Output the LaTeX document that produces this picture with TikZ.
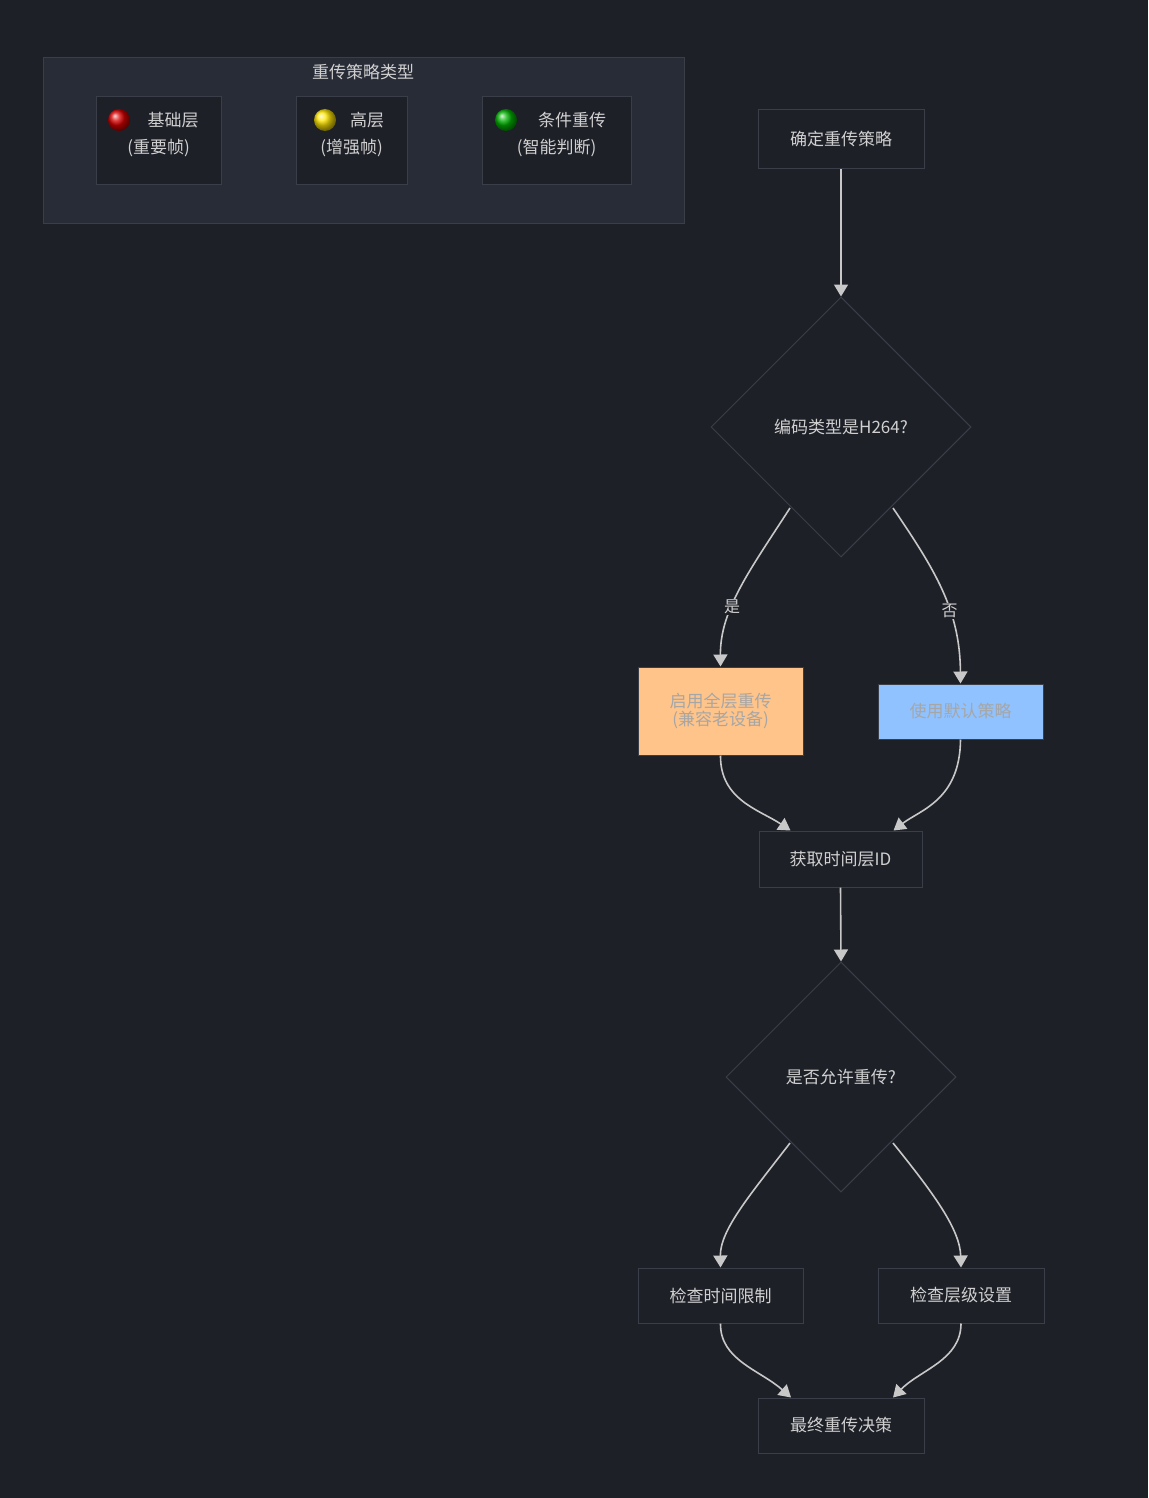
\documentclass[tikz,border=0pt]{standalone}
\usepackage{fontspec}
\setmainfont{Noto Sans CJK SC}
\usetikzlibrary{arrows.meta,shapes.geometric}
\definecolor{bg}{HTML}{1E2028}
\definecolor{nodebg}{HTML}{1E2028}
\definecolor{nodeline}{HTML}{3A3E48}
\definecolor{txt}{HTML}{D0D0D0}
\definecolor{legbg}{HTML}{282C37}
\definecolor{orangef}{HTML}{FFC48A}
\definecolor{bluef}{HTML}{90C2FF}
\definecolor{edge}{HTML}{C8C8C8}
\tikzset{
  box/.style={draw=nodeline,fill=nodebg,text=txt,font=\fontsize{17}{20}\selectfont,align=center,inner sep=0pt,line width=1pt},
  dia/.style={diamond,draw=nodeline,fill=nodebg,text=txt,font=\fontsize{17}{20}\selectfont,inner sep=0pt,line width=1pt},
  conn/.style={draw=edge,line width=1.6pt,-{Triangle[length=12pt,width=14pt]}},
  lbl/.style={text=txt,font=\fontsize{16}{18}\selectfont,fill=bg,inner sep=1pt}
}
\begin{document}
\begin{tikzpicture}[x=1pt,y=-1pt]
\fill[bg] (0,0) rectangle (1148,1498);
\useasboundingbox (0,0) rectangle (1148,1498);
% legend
\node[draw=nodeline,fill=legbg,minimum width=641pt,minimum height=165pt,inner sep=0pt,line width=1pt] (leg) at (363.5,140.5) {};
\node[text=txt,font=\fontsize{17}{20}\selectfont] (legt) at (363,72) {重传策略类型};
\node[box,minimum width=125pt,minimum height=88pt] (l1) at (158.5,141) {};
\node[box,minimum width=111pt,minimum height=88pt] (l2) at (351.5,141) {};
\node[box,minimum width=149pt,minimum height=88pt] (l3) at (556.5,141) {};
\shade[ball color=red!85!black] (119,120) circle[x radius=11pt,y radius=11pt];
\shade[ball color=yellow!80!orange] (325,120) circle[x radius=11pt,y radius=11pt];
\shade[ball color=green!70!black] (506,120) circle[x radius=11pt,y radius=11pt];
\node[text=txt,font=\fontsize{17}{20}\selectfont,align=center] (l1t) at (173,120) {基础层};
\node[text=txt,font=\fontsize{17}{20}\selectfont] (l1u) at (158.5,148) {(重要帧)};
\node[text=txt,font=\fontsize{17}{20}\selectfont] (l2t) at (367,120) {高层};
\node[text=txt,font=\fontsize{17}{20}\selectfont] (l2u) at (351.5,148) {(增强帧)};
\node[text=txt,font=\fontsize{17}{20}\selectfont] (l3t) at (572,120) {条件重传};
\node[text=txt,font=\fontsize{17}{20}\selectfont] (l3u) at (556.5,148) {(智能判断)};
% flow
\node[box,minimum width=166pt,minimum height=59pt] (a) at (841,139.5) {确定重传策略};
\node[dia,minimum width=260pt,minimum height=260pt] (d1) at (841,427) {编码类型是H264?};
\node[box,fill=orangef,text=black!35,minimum width=165pt,minimum height=88pt,align=center] (o) at (720.5,711) {启用全层重传\\[-2pt](兼容老设备)};
\node[box,fill=bluef,text=black!35,minimum width=165pt,minimum height=55pt] (b) at (960.5,711.5) {使用默认策略};
\node[box,minimum width=163pt,minimum height=56pt] (g) at (840.5,859) {获取时间层ID};
\node[dia,minimum width=230pt,minimum height=230pt] (d2) at (841,1077) {是否允许重传?};
\node[box,minimum width=165pt,minimum height=55pt] (c1) at (720.5,1295.5) {检查时间限制};
\node[box,minimum width=166pt,minimum height=55pt] (c2) at (961,1295.5) {检查层级设置};
\node[box,minimum width=166pt,minimum height=55pt] (f) at (841,1425.5) {最终重传决策};
\coordinate (d1l) at (790,508);
\coordinate (d1r) at (893,508);
\coordinate (d2l) at (790,1143);
\coordinate (d2r) at (893,1143);
\draw[conn] (a.south) -- (d1.north);
\draw[conn] (d1l) .. controls (750,570) and (720,610) .. node[lbl,pos=0.62] {是} (o.north);
\draw[conn] (d1r) .. controls (935,570) and (960,610) .. node[lbl,pos=0.62] {否} (b.north);
\draw[conn] (o.south) .. controls (720,800) and (760,810) .. ([xshift=-50pt]g.north);
\draw[conn] (b.south) .. controls (960,800) and (920,810) .. ([xshift=53pt]g.north);
\draw[conn] (g.south) -- (d2.north);
\draw[conn] (d2l) .. controls (750,1195) and (720,1230) .. (c1.north);
\draw[conn] (d2r) .. controls (935,1195) and (960,1230) .. (c2.north);
\draw[conn] (c1.south) .. controls (720,1360) and (760,1370) .. ([xshift=-50pt]f.north);
\draw[conn] (c2.south) .. controls (961,1360) and (920,1370) .. ([xshift=52pt]f.north);
\end{tikzpicture}
\end{document}
